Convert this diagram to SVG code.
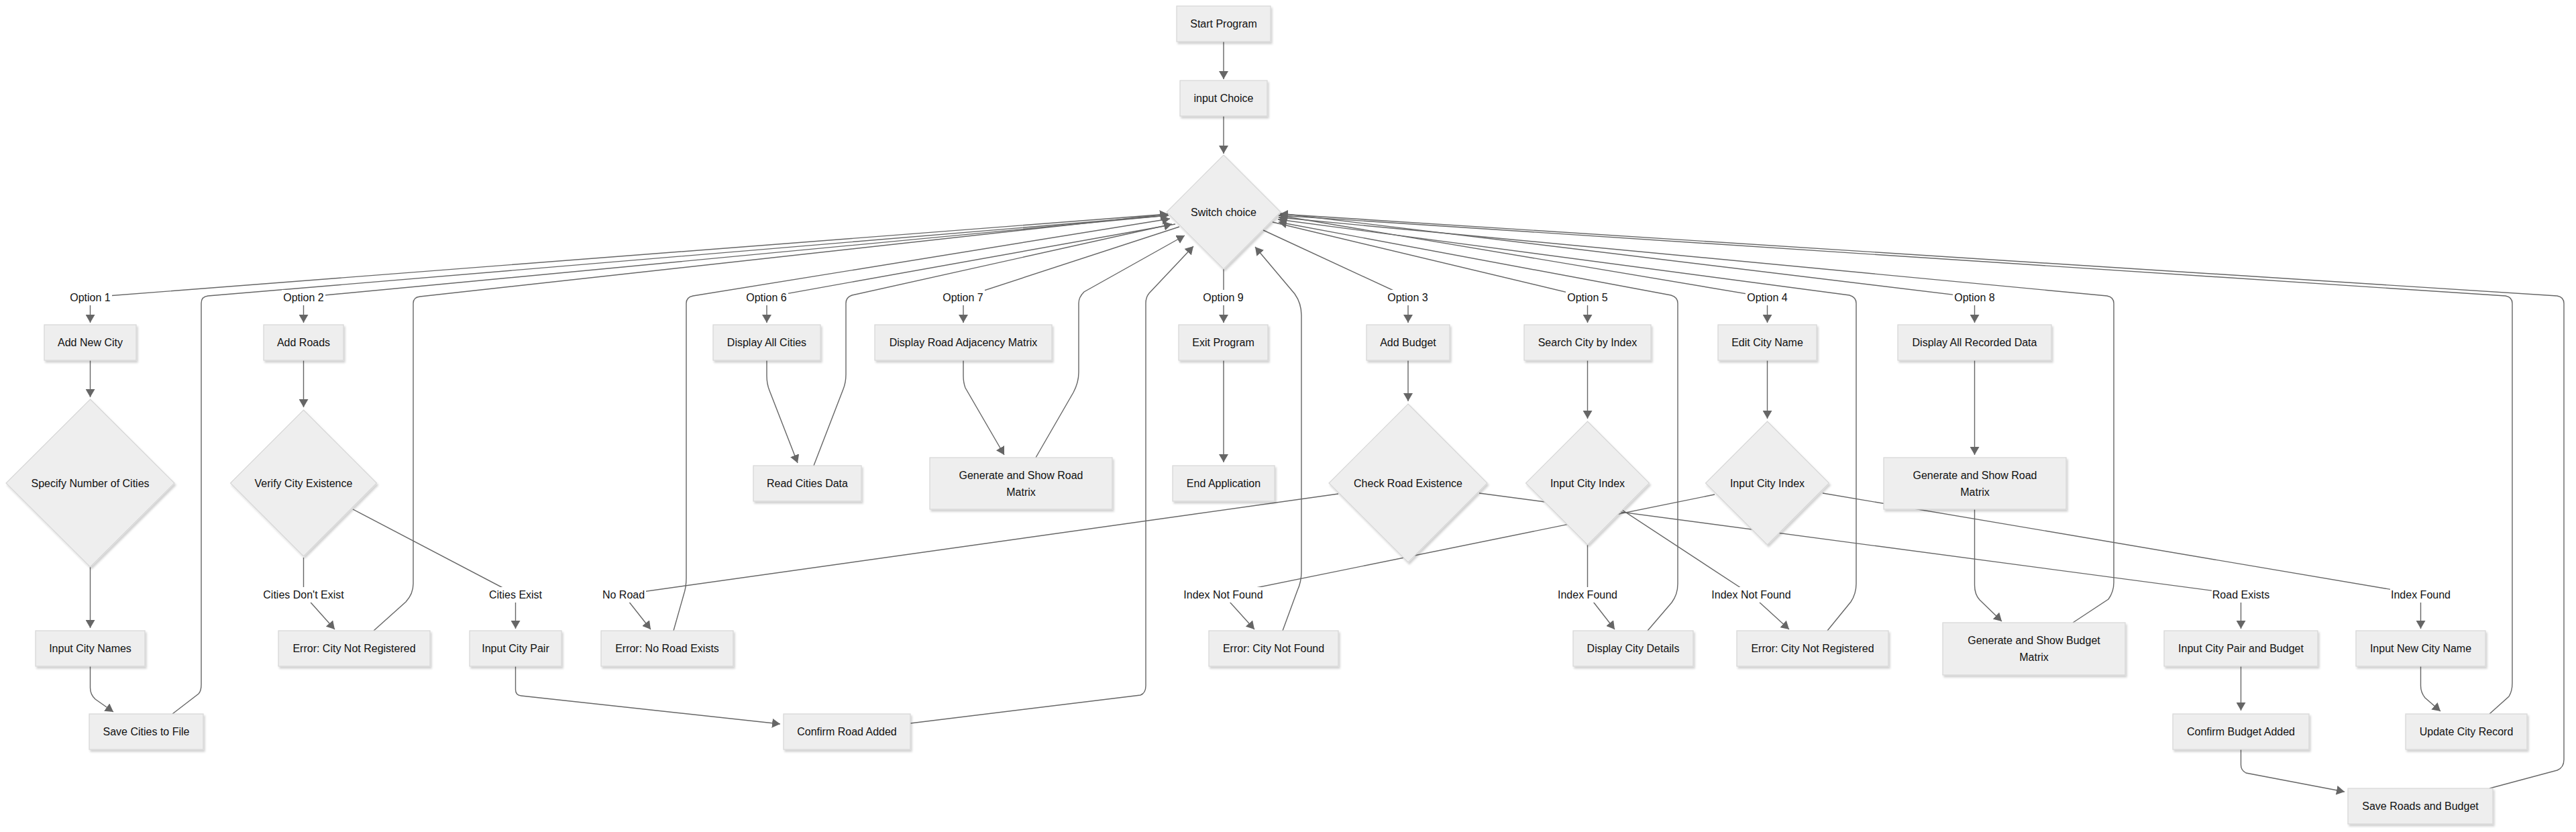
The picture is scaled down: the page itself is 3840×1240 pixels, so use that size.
<svg xmlns="http://www.w3.org/2000/svg" width="3840" height="1240" viewBox="0 0 3840 1240">
<defs>
<style>
.n rect,.n polygon{fill:#eeeeee;stroke:#d6d6d6;stroke-width:1.2;filter:url(#sh)}
.t{font-family:"Liberation Sans",Arial,sans-serif;font-size:16px;fill:#111;text-anchor:middle;dominant-baseline:central}
.e{fill:none;stroke:#666;stroke-width:1.4}
.a{marker-end:url(#arr)}
.lb rect{fill:#ffffff}
</style>
<marker id="arr" viewBox="0 0 12 14" refX="12" refY="7" markerWidth="12" markerHeight="14" markerUnits="userSpaceOnUse" orient="auto"><path d="M0,0 L12,7 L0,14 z" fill="#666"/></marker>
<filter id="sh" x="-10%" y="-10%" width="130%" height="140%"><feDropShadow dx="2" dy="3" stdDeviation="1.5" flood-color="#000" flood-opacity="0.18"/></filter>
</defs>
<rect width="3840" height="1240" fill="#fff"/>
<g id="connectors">
<path class="e a" d="M1824,62 L1824,118"/>
<path class="e a" d="M1824,173 L1824,229"/>
<path class="e a" d="M1741,319 L134.5,443 L134.5,481"/>
<path class="e a" d="M1741,321 L452.5,443 L452.5,481"/>
<path class="e a" d="M1752,334 L1143,443 L1143,481"/>
<path class="e a" d="M1758,338 L1436,443 L1436,481"/>
<path class="e a" d="M1824,401 L1824,481"/>
<path class="e a" d="M1883,343 L2099,443 L2099,481"/>
<path class="e a" d="M1897,331 L2366.5,443 L2366.5,481"/>
<path class="e a" d="M1906,321 L2634.5,443 L2634.5,481"/>
<path class="e a" d="M1909,318 L2943.5,443 L2943.5,481"/>
<path class="e a" d="M134.5,537 L134.5,592"/>
<path class="e a" d="M134.5,845 L134.5,936"/>
<path class="e a" d="M134.5,993 L134.5,1025 Q134.5,1035 142,1042 L169,1061"/>
<path class="e a" d="M452.5,537 L452.5,607"/>
<path class="e a" d="M452.5,831 L452.5,886 L499,938"/>
<path class="e a" d="M526,759 L768.5,886 L768.5,937"/>
<path class="e a" d="M768.5,993 L768.5,1028 Q768.5,1036 777,1037 L1163,1079"/>
<path class="e a" d="M1143,537 L1143,560 Q1143,572 1147,582 L1189,690"/>
<path class="e a" d="M1436,537 L1436,560 Q1436,570 1439,578 L1497,678"/>
<path class="e a" d="M1824,537 L1824,689"/>
<path class="e a" d="M2099,537 L2099,598"/>
<path class="e a" d="M1995,736 L929,886 L970,938"/>
<path class="e a" d="M2205,735 L3340.5,886 L3340.5,937"/>
<path class="e a" d="M2366.5,537 L2366.5,624"/>
<path class="e a" d="M2366.5,812 L2366.5,886 L2407,938"/>
<path class="e a" d="M2418,760 L2610,886 L2667,938"/>
<path class="e a" d="M2634.5,537 L2634.5,624"/>
<path class="e a" d="M2556,737 L1823,886 L1870,938"/>
<path class="e a" d="M2717,735 L3608.5,886 L3608.5,937"/>
<path class="e a" d="M2943.5,537 L2943.5,678"/>
<path class="e a" d="M2943.5,759 L2943.5,872 Q2943.5,886 2951,894 L2984,926"/>
<path class="e a" d="M3340.5,993 L3340.5,1059"/>
<path class="e a" d="M3608.5,993 L3608.5,1022 Q3608.5,1032 3615,1040 L3638,1060"/>
<path class="e a" d="M3340.5,1117 L3340.5,1140 Q3340.5,1148 3348,1152 L3495,1180"/>
<path class="e a" d="M257,1064 L296,1034 Q300,1030 300,1020 L300,452 Q300,442 310,441 L1742,321"/>
<path class="e a" d="M557,940 L605,897 Q616,885 616,870 L616,452 Q616,443 626,442 L1741,319"/>
<path class="e a" d="M1004,940 L1019,887 Q1023,875 1023,862 L1023,452 Q1023,443 1033,441 L1744,326"/>
<path class="e a" d="M1213,694 L1257,580 Q1261,570 1261,558 L1261,452 Q1261,443 1270,440 L1747,334"/>
<path class="e a" d="M1544,682 L1600,585 Q1608,570 1608,555 L1608,452 Q1608,443 1616,435 L1766,351"/>
<path class="e a" d="M1357,1078 L1700,1036 Q1708,1033 1708,1022 L1708,452 Q1708,443 1713,437 L1779,367"/>
<path class="e a" d="M1912,940 L1934,880 Q1940,867 1940,852 L1940,470 Q1940,452 1930,438 L1871,368"/>
<path class="e a" d="M2456,940 L2492,898 Q2501,886 2501,870 L2501,452 Q2501,443 2491,440 L1906,331"/>
<path class="e a" d="M2724,940 L2759,897 Q2767,885 2767,870 L2767,452 Q2767,443 2757,440 L1905,327"/>
<path class="e a" d="M3090,928 L3143,893 Q3151,882 3151,868 L3151,452 Q3151,443 3141,441 L1906,324"/>
<path class="e a" d="M3711,1064 L3740,1038 Q3745,1030 3745,1018 L3745,452 Q3745,443 3735,441 L1907,321"/>
<path class="e a" d="M3711,1175 L3812,1148 Q3822,1144 3822,1132 L3822,452 Q3822,443 3812,441 L1908,319"/>
</g>
<g id="n-start" class="n"><rect x="1754" y="9" width="140" height="53"/><text class="t" x="1824" y="35.5">Start Program</text></g>
<g id="n-input" class="n"><rect x="1759" y="120" width="130" height="53"/><text class="t" x="1824" y="146.5">input Choice</text></g>
<g id="n-switch" class="n"><polygon points="1824,231 1909,316 1824,401 1739,316"/><text class="t" x="1824" y="316">Switch choice</text></g>
<g id="n-addcity" class="n"><rect x="66" y="484" width="137" height="53"/><text class="t" x="134.5" y="510.5">Add New City</text></g>
<g id="n-specify" class="n"><polygon points="134.5,595 260,720 134.5,845 9,720"/><text class="t" x="134.5" y="720">Specify Number of Cities</text></g>
<g id="n-inputnames" class="n"><rect x="53" y="940" width="163" height="53"/><text class="t" x="134.5" y="966.5">Input City Names</text></g>
<g id="n-savecities" class="n"><rect x="133" y="1064" width="170" height="53"/><text class="t" x="218" y="1090.5">Save Cities to File</text></g>
<g id="n-addroads" class="n"><rect x="393" y="484" width="119" height="53"/><text class="t" x="452.5" y="510.5">Add Roads</text></g>
<g id="n-verify" class="n"><polygon points="452.5,611 561.5,720 452.5,829 343.5,720"/><text class="t" x="452.5" y="720">Verify City Existence</text></g>
<g id="n-errcnr1" class="n"><rect x="415" y="940" width="226" height="53"/><text class="t" x="528" y="966.5">Error: City Not Registered</text></g>
<g id="n-citypair" class="n"><rect x="700" y="940" width="137" height="53"/><text class="t" x="768.5" y="966.5">Input City Pair</text></g>
<g id="n-errnoroad" class="n"><rect x="896" y="940" width="197" height="53"/><text class="t" x="994.5" y="966.5">Error: No Road Exists</text></g>
<g id="n-confirmroad" class="n"><rect x="1168" y="1064" width="189" height="53"/><text class="t" x="1262.5" y="1090.5">Confirm Road Added</text></g>
<g id="n-dispcities" class="n"><rect x="1063" y="484" width="160" height="53"/><text class="t" x="1143" y="510.5">Display All Cities</text></g>
<g id="n-readcities" class="n"><rect x="1123" y="694" width="161" height="53"/><text class="t" x="1203.5" y="720.5">Read Cities Data</text></g>
<g id="n-dispadj" class="n"><rect x="1304" y="484" width="264" height="53"/><text class="t" x="1436" y="510.5">Display Road Adjacency Matrix</text></g>
<g id="n-genroad1" class="n"><rect x="1386" y="682" width="272" height="77"/><text class="t" x="1522" y="708">Generate and Show Road</text><text class="t" x="1522" y="733">Matrix</text></g>
<g id="n-exit" class="n"><rect x="1757" y="484" width="133" height="53"/><text class="t" x="1823.5" y="510.5">Exit Program</text></g>
<g id="n-end" class="n"><rect x="1748" y="694" width="152" height="53"/><text class="t" x="1824" y="720.5">End Application</text></g>
<g id="n-addbudget" class="n"><rect x="2037" y="484" width="124" height="53"/><text class="t" x="2099" y="510.5">Add Budget</text></g>
<g id="n-checkroad" class="n"><polygon points="2099,602 2217,720 2099,838 1981,720"/><text class="t" x="2099" y="720">Check Road Existence</text></g>
<g id="n-search" class="n"><rect x="2272" y="484" width="189" height="53"/><text class="t" x="2366.5" y="510.5">Search City by Index</text></g>
<g id="n-idx1" class="n"><polygon points="2366.5,628 2458.5,720 2366.5,812 2274.5,720"/><text class="t" x="2366.5" y="720">Input City Index</text></g>
<g id="n-errnotfound" class="n"><rect x="1802" y="940" width="193" height="53"/><text class="t" x="1898.5" y="966.5">Error: City Not Found</text></g>
<g id="n-dispdetails" class="n"><rect x="2345" y="940" width="179" height="53"/><text class="t" x="2434.5" y="966.5">Display City Details</text></g>
<g id="n-editname" class="n"><rect x="2561" y="484" width="147" height="53"/><text class="t" x="2634.5" y="510.5">Edit City Name</text></g>
<g id="n-idx2" class="n"><polygon points="2634.5,628 2726.5,720 2634.5,812 2542.5,720"/><text class="t" x="2634.5" y="720">Input City Index</text></g>
<g id="n-errcnr2" class="n"><rect x="2589" y="940" width="226" height="53"/><text class="t" x="2702" y="966.5">Error: City Not Registered</text></g>
<g id="n-dispall" class="n"><rect x="2829" y="484" width="229" height="53"/><text class="t" x="2943.5" y="510.5">Display All Recorded Data</text></g>
<g id="n-genroad2" class="n"><rect x="2808" y="682" width="272" height="77"/><text class="t" x="2944" y="708">Generate and Show Road</text><text class="t" x="2944" y="733">Matrix</text></g>
<g id="n-genbudget" class="n"><rect x="2896" y="928" width="272" height="78"/><text class="t" x="3032" y="954.5">Generate and Show Budget</text><text class="t" x="3032" y="979.5">Matrix</text></g>
<g id="n-pairbudget" class="n"><rect x="3226" y="940" width="229" height="53"/><text class="t" x="3340.5" y="966.5">Input City Pair and Budget</text></g>
<g id="n-newname" class="n"><rect x="3512" y="940" width="193" height="53"/><text class="t" x="3608.5" y="966.5">Input New City Name</text></g>
<g id="n-confirmbudget" class="n"><rect x="3239" y="1064" width="203" height="53"/><text class="t" x="3340.5" y="1090.5">Confirm Budget Added</text></g>
<g id="n-update" class="n"><rect x="3586" y="1064" width="181" height="53"/><text class="t" x="3676.5" y="1090.5">Update City Record</text></g>
<g id="n-saveroads" class="n"><rect x="3500" y="1175" width="216" height="53"/><text class="t" x="3608" y="1201.5">Save Roads and Budget</text></g>
<g id="edge-labels" class="lb">
<rect x="102" y="432" width="65" height="23"/><text class="t" x="134.5" y="443">Option 1</text>
<rect x="420" y="432" width="65" height="23"/><text class="t" x="452.5" y="443">Option 2</text>
<rect x="1110" y="432" width="65" height="23"/><text class="t" x="1142.5" y="443">Option 6</text>
<rect x="1403" y="432" width="65" height="23"/><text class="t" x="1435.5" y="443">Option 7</text>
<rect x="1791" y="432" width="65" height="23"/><text class="t" x="1823.5" y="443">Option 9</text>
<rect x="2066" y="432" width="65" height="23"/><text class="t" x="2098.5" y="443">Option 3</text>
<rect x="2334" y="432" width="65" height="23"/><text class="t" x="2366.5" y="443">Option 5</text>
<rect x="2602" y="432" width="65" height="23"/><text class="t" x="2634.5" y="443">Option 4</text>
<rect x="2911" y="432" width="65" height="23"/><text class="t" x="2943.5" y="443">Option 8</text>
<rect x="388" y="875" width="129" height="23"/><text class="t" x="452.5" y="886">Cities Don't Exist</text>
<rect x="727" y="875" width="83" height="23"/><text class="t" x="768.5" y="886">Cities Exist</text>
<rect x="896" y="875" width="67" height="23"/><text class="t" x="929.5" y="886">No Road</text>
<rect x="1764" y="875" width="120" height="23"/><text class="t" x="1823.5" y="886">Index Not Found</text>
<rect x="2321" y="875" width="92" height="23"/><text class="t" x="2366.5" y="886">Index Found</text>
<rect x="2551" y="875" width="120" height="23"/><text class="t" x="2610.5" y="886">Index Not Found</text>
<rect x="3297" y="875" width="88" height="23"/><text class="t" x="3340.5" y="886">Road Exists</text>
<rect x="3563" y="875" width="92" height="23"/><text class="t" x="3608.5" y="886">Index Found</text>
</g>
</svg>
